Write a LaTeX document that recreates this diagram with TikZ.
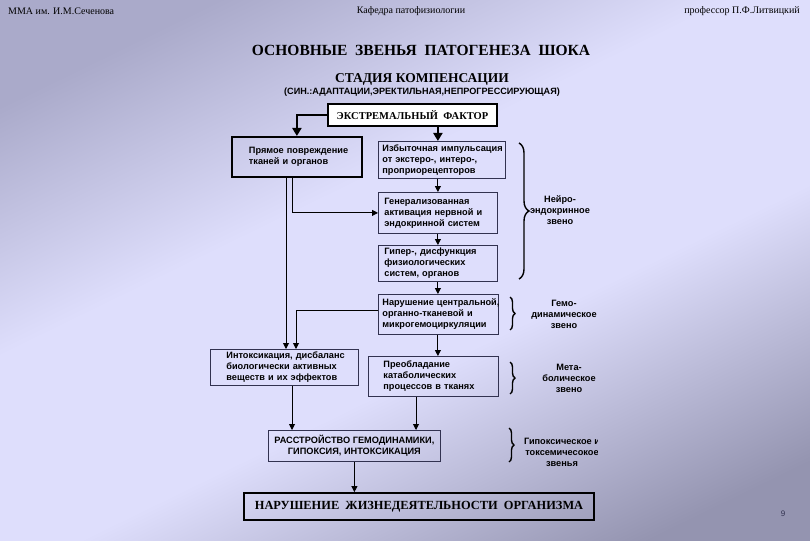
\documentclass[tikz,border=0pt]{standalone}
\usepackage{fontspec}
\setmainfont{Liberation Serif}
\setsansfont{Liberation Sans}
\usepackage{tikz}
\usetikzlibrary{arrows.meta, positioning, decorations.pathreplacing}
\definecolor{bgdark}{RGB}{170, 170, 202}
\definecolor{bglight}{RGB}{222, 222, 252}
\definecolor{bggrey}{RGB}{148, 148, 176}
\definecolor{boxline}{RGB}{50, 50, 80}
\pgfdeclarehorizontalshading{slidebg}{100bp}{
    color(0bp)=(bgdark); color(24bp)=(bgdark); color(42bp)=(bglight);
    color(58bp)=(bglight); color(78bp)=(bggrey); color(100bp)=(bggrey)}

\begin{document}
\begin{tikzpicture}[
    x=1pt, y=-1pt,
    every node/.style = {inner sep=0pt},
    hdr/.style = {font=\fontsize{10}{12}\selectfont},
    stepbox/.style = {
        rectangle, draw=boxline, line width=0.8pt,
        anchor=north west, align=left, inner ysep=0pt,
        font=\fontsize{9.2}{11}\selectfont\sffamily\bfseries
    },
    heavybox/.style = {stepbox, draw=black, line width=1.8pt},
    titlebox/.style = {
        rectangle, draw=black, line width=1.8pt,
        font=\fontsize{10.5}{12}\selectfont\bfseries
    },
    zveno/.style = {font=\fontsize{9.2}{11}\selectfont\sffamily\bfseries, align=center},
    arr/.style = {-{Triangle[length=6pt, width=6pt]}, line width=0.9pt},
    thickarr/.style = {-{Triangle[length=8pt, width=9pt]}, line width=2.2pt},
    bracket/.style = {decorate, decoration={brace, amplitude=#1}, line width=1.4pt},
]

% Background
\shade[shading=slidebg, shading angle=-64] (0,0) rectangle (810,540);

% Header
\node[hdr, anchor=west] (hdrl) at (8,11)   {ММА им. И.М.Сеченова};
\node[hdr]              (hdrc) at (411,11) {Кафедра патофизиологии};
\node[hdr, anchor=east] (hdrr) at (800,11) {профессор П.Ф.Литвицкий};

% Titles
\node[font=\fontsize{15.5}{18}\selectfont\bfseries] (title) at (421,50)
    {ОСНОВНЫЕ~ ЗВЕНЬЯ~ ПАТОГЕНЕЗА~ ШОКА};
\node[font=\fontsize{13.5}{16}\selectfont\bfseries] (stage) at (422,79)
    {СТАДИЯ КОМПЕНСАЦИИ};
\node[font=\fontsize{9.1}{10}\selectfont\sffamily\bfseries] (syn) at (422,92)
    {(СИН.:АДАПТАЦИИ,ЭРЕКТИЛЬНАЯ,НЕПРОГРЕССИРУЮЩАЯ)};

% Top factor
\node[titlebox, fill=white, minimum width=169pt, minimum height=22pt] (ef) at (412.5,115)
    {ЭКСТРЕМАЛЬНЫЙ~ ФАКТОР};

% Left branch
\node[heavybox, text width=96pt, inner xsep=17pt, minimum height=40pt] (prm) at (231,136)
    {Прямое~повреждение\\тканей и органов};
\node[stepbox, text width=116pt, inner xsep=16pt, minimum height=36pt] (intox) at (210,349)
    {Интоксикация,~дисбаланс\\биологически активных\\веществ и их эффектов};

% Neuro-endocrine chain
\node[stepbox, text width=119pt, inner xsep=4pt, minimum height=37pt] (izb) at (378,141)
    {Избыточная~импульсация\\от экстеро-, интеро-,\\проприорецепторов};
\node[stepbox, text width=107pt, inner xsep=6pt, minimum height=41pt] (gen) at (378,192)
    {Генерализованная\\активация нервной и\\эндокринной систем};
\node[stepbox, text width=107pt, inner xsep=6pt, minimum height=36pt] (giper) at (378,245)
    {Гипер-, дисфункция\\физиологических\\систем, органов};
\node[stepbox, text width=112pt, inner xsep=4pt, minimum height=40pt] (nar) at (378,294)
    {Нарушение~центральной,\\органно-тканевой и\\микрогемоциркуляции};
\node[stepbox, text width=100pt, inner xsep=15pt, minimum height=40pt] (preo) at (368,356)
    {Преобладание\\катаболических\\процессов в тканях};

% Result
\node[stepbox, align=center, minimum width=172pt, minimum height=31pt] (rast) at (268,430)
    {РАССТРОЙСТВО ГЕМОДИНАМИКИ,\\ГИПОКСИЯ, ИНТОКСИКАЦИЯ};
\node[titlebox, font=\fontsize{12.4}{14}\selectfont\bfseries,
      minimum width=350pt, minimum height=27pt] (fin) at (419,506.5)
    {НАРУШЕНИЕ~ ЖИЗНЕДЕЯТЕЛЬНОСТИ~ ОРГАНИЗМА};

% Arrows
\draw[thickarr] (ef.west) -| (prm.north);
\draw[thickarr] (ef.south -| gen.north) -- (izb.north -| gen.north);
\draw[arr] (izb.south -| gen.north) -- (gen.north);
\draw[arr] (gen.south) -- (giper.north);
\draw[arr] (giper.south) -- (giper.south |- nar.north);
\draw[arr] (nar.south -| gen.south) -- (preo.north -| gen.south);
\draw[arr] ([xshift=61pt]prm.south west) |- (gen.west);
\draw[arr] ([xshift=55pt]prm.south west) -- ([xshift=76pt]intox.north west);
\draw[arr] ([yshift=4pt]nar.west) -| ([xshift=86pt]intox.north west);
\draw[arr] ([xshift=82pt]intox.south west) -- ([xshift=24pt]rast.north west);
\draw[arr] ([xshift=48pt]preo.south west) -- ([xshift=148pt]rast.north west);
\draw[arr] (rast.south) -- (rast.south |- fin.north);

% Braces
\draw[bracket=10pt] (519,143) -- (519,279);
\draw[bracket=5pt]  (510,297) -- (510,330);
\draw[bracket=5pt]  (510,362) -- (510,394);
\draw[bracket=5pt]  (509,428) -- (509,462);

\begin{scope}
\clip (500,0) rectangle (597,540);
\node[zveno] (neuro) at (560,210) {Нейро-\\эндокринное\\звено};
\node[zveno] (gemo)  at (564,314) {Гемо-\\динамическое\\звено};
\node[zveno] (meta)  at (569,378) {Мета-\\болическое\\звено};
\node[zveno] (gipox) at (562,452) {Гипоксическое и\\токсемичесокое\\звенья};
\end{scope}

\node[font=\fontsize{8}{10}\selectfont\sffamily, text=boxline] (pnum) at (783,514) {9};

\end{tikzpicture}
\end{document}
